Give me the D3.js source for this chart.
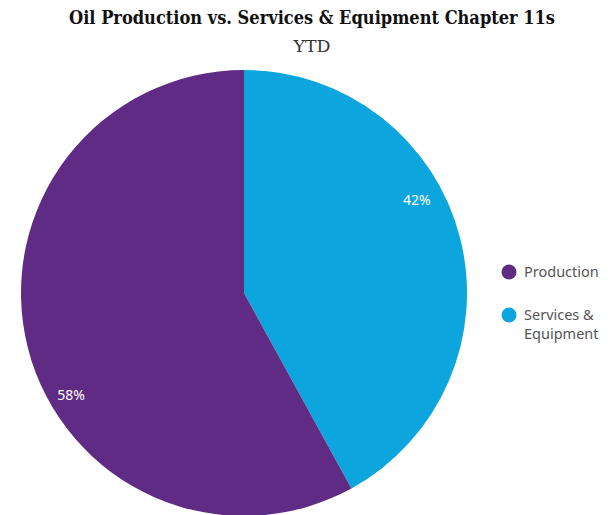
<!DOCTYPE html>
<html><head><meta charset="utf-8">
<script src="https://cdn.jsdelivr.net/npm/d3@7"></script>
<style>body{margin:0;background:#fff;}</style>
</head><body>
<svg id="c" width="616" height="515"></svg>
<script>
const categories = ["Services & Equipment", "Production"];
const values = [42, 58];
const colors = ["#0da5de", "#5f2b84"];
const legendOrder = ["Production", "Services & Equipment"];
const legendLines = {"Production": ["Production"], "Services & Equipment": ["Services &", "Equipment"]};

const svg = d3.select("#c");
const cx = 244, cy = 293, R = 223;

svg.append("text").attr("x", 312).attr("y", 24).attr("text-anchor", "middle")
  .attr("font-family", "DejaVu Serif, serif").attr("font-weight", "bold").attr("font-size", 18)
  .attr("fill", "#111").attr("textLength", 486).attr("lengthAdjust", "spacingAndGlyphs")
  .text("Oil Production vs. Services & Equipment Chapter 11s");
svg.append("text").attr("x", 312).attr("y", 52).attr("text-anchor", "middle")
  .attr("font-family", "DejaVu Serif, serif").attr("font-size", 17.5)
  .attr("fill", "#333").attr("textLength", 37).attr("lengthAdjust", "spacingAndGlyphs").text("YTD");

const data = categories.map((c, i) => ({cat: c, value: values[i], color: colors[i]}));
const pie = d3.pie().value(d => d.value).sort(null);
const arc = d3.arc().innerRadius(0).outerRadius(R);
const arcs = pie(data);
const g = svg.append("g").attr("transform", `translate(${cx},${cy})`);
g.selectAll("path").data(arcs).join("path").attr("d", arc).attr("fill", d => d.data.color);

const shift = -15 * Math.PI / 180;
g.selectAll("text.lbl").data(arcs).join("text").attr("class", "lbl")
  .attr("transform", d => {
    const a = (d.startAngle + d.endAngle) / 2 + shift;
    const r = R * 0.89;
    return `translate(${Math.sin(a) * r},${-Math.cos(a) * r + 5})`;
  })
  .attr("text-anchor", "middle").attr("dy", "0.35em")
  .attr("font-family", "Noto Sans, sans-serif").attr("font-size", 14).attr("fill", "#fff")
  .text(d => d.data.value + "%");

const colorOf = d3.scaleOrdinal().domain(categories).range(colors);
const lg = svg.append("g");
const ys = [272, 315];
legendOrder.forEach((c, i) => {
  lg.append("circle").attr("cx", 509).attr("cy", ys[i]).attr("r", 7.5).attr("fill", colorOf(c));
  legendLines[c].forEach((line, j) => {
    lg.append("text").attr("x", 524).attr("y", ys[i] + 5 + j * 19)
      .attr("font-family", "Noto Sans, sans-serif").attr("font-size", 14.5).attr("fill", "#555")
      .text(line);
  });
});
</script>
</body></html>
